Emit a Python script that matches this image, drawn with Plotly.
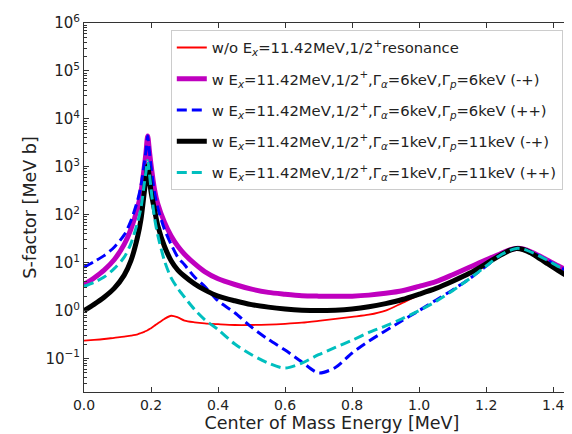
import plotly.graph_objects as go

# energies (MeV) shared by all curves
energy = [0, 0.03, 0.06, 0.09, 0.12, 0.14, 0.16, 0.17, 0.18, 0.185, 0.19, 0.195, 0.2,
          0.21, 0.22, 0.24, 0.26, 0.28, 0.3, 0.33, 0.36, 0.4, 0.45, 0.5, 0.55, 0.6,
          0.65, 0.7, 0.75, 0.8, 0.85, 0.9, 0.95, 1.0, 1.05, 1.1, 1.15, 1.2, 1.24,
          1.27, 1.29, 1.31, 1.34, 1.38, 1.42, 1.46, 1.5]

# S-factor values (MeV b)
s_without = [0.237, 0.245, 0.255, 0.27, 0.285, 0.3, 0.32, 0.34, 0.36, 0.375, 0.39, 0.41, 0.43,
             0.48, 0.54, 0.67, 0.78, 0.72, 0.62, 0.57, 0.54, 0.52, 0.5, 0.5, 0.51, 0.53,
             0.56, 0.61, 0.67, 0.74, 0.82, 1.0, 1.45, 2.1, 2.8, 4.0, 5.9, 9.3, 14,
             18, 19.8, 19.3, 16, 11.5, 8, 5.8, 4.3]
s_66_mp = [3.5, 4.8, 7, 11.5, 24, 50, 140, 300, 1000, 2000, 4400, 2200, 1100,
           350, 170, 70, 36, 22, 15, 9.5, 6.5, 4.6, 3.5, 2.8, 2.4, 2.2,
           2.05, 2.0, 1.98, 2.0, 2.1, 2.3, 2.6, 3.2, 4.0, 5.6, 8, 11.5, 15,
           18.5, 19.8, 19.3, 16, 11.5, 8.2, 6.0, 4.5]
s_66_pp = [8, 10.5, 14, 21, 38, 75, 200, 400, 1200, 2200, 4400, 2100, 1000,
           300, 140, 50, 24, 13, 9, 5, 3.2, 1.6, 0.9, 0.45, 0.25, 0.15,
           0.085, 0.05, 0.065, 0.13, 0.23, 0.38, 0.62, 1.0, 1.65, 2.7, 4.6, 8.5, 14,
           18, 19.8, 19.3, 16, 11.5, 8, 5.8, 4.3]
s_111_mp = [1.0, 1.35, 1.9, 2.9, 5.5, 11, 35, 80, 300, 550, 1050, 600, 300,
            130, 60, 22, 11, 7, 5.2, 3.6, 2.7, 2.0, 1.6, 1.33, 1.18, 1.08,
            1.02, 1.0, 1.02, 1.08, 1.2, 1.4, 1.7, 2.2, 2.9, 4.1, 6, 9.5, 14,
            18, 19.8, 18.8, 15, 9.8, 6.5, 4.5, 3.4]
s_111_pp = [3.2, 3.9, 5, 7.5, 13, 25, 70, 140, 450, 800, 1350, 750, 350,
            90, 38, 11, 4.8, 2.9, 1.9, 1.05, 0.65, 0.4, 0.2, 0.12, 0.08, 0.063,
            0.08, 0.12, 0.17, 0.24, 0.35, 0.48, 0.68, 1.0, 1.55, 2.6, 4.6, 8.5, 14,
            18, 19.8, 19.3, 16, 11.5, 8, 5.8, 4.3]

names = [
    "w/o E<sub><i>x</i></sub>=11.42MeV,1/2<sup>+</sup>resonance",
    "w E<sub><i>x</i></sub>=11.42MeV,1/2<sup>+</sup>,Γ<sub><i>α</i></sub>=6keV,Γ<sub><i>p</i></sub>=6keV (-+)",
    "w E<sub><i>x</i></sub>=11.42MeV,1/2<sup>+</sup>,Γ<sub><i>α</i></sub>=6keV,Γ<sub><i>p</i></sub>=6keV (++)",
    "w E<sub><i>x</i></sub>=11.42MeV,1/2<sup>+</sup>,Γ<sub><i>α</i></sub>=1keV,Γ<sub><i>p</i></sub>=11keV (-+)",
    "w E<sub><i>x</i></sub>=11.42MeV,1/2<sup>+</sup>,Γ<sub><i>α</i></sub>=1keV,Γ<sub><i>p</i></sub>=11keV (++)",
]
series = [s_without, s_66_mp, s_66_pp, s_111_mp, s_111_pp]
colors = ["#ff0000", "#bf00bf", "#0000ff", "#000000", "#00bfbf"]
widths = [1.8, 5, 3, 5, 3]
dashes = ["solid", "solid", "10px,5px", "solid", "10px,5px"]

y_tickvals = [10.0 ** k for k in range(-1, 7)]
y_ticktext = ["10<sup>−1</sup>"] + ["10<sup>%d</sup>" % k for k in range(0, 7)]
y_minor = [m * 10.0 ** k for k in range(-2, 6) for m in range(2, 10)]

fig = go.Figure()
for i, (name, vals) in enumerate(zip(names, series)):
    fig.add_trace(go.Scatter(
        x=energy, y=vals, mode="lines", name=name, legendgroup=str(i),
        line=dict(color=colors[i], width=widths[i], dash=dashes[i], shape="spline", smoothing=0.8),
    ))

fig.update_layout(
    width=572, height=434,
    margin=dict(l=76, r=0, t=15, b=50),
    paper_bgcolor="white", plot_bgcolor="white",
    font=dict(family="DejaVu Sans", size=14, color="#222222"),
    legend=dict(
        x=0.175, y=0.98, xanchor="left", yanchor="top",
        bgcolor="rgba(255,255,255,0.85)", bordercolor="#cccccc", borderwidth=1,
        font=dict(size=14.8), tracegroupgap=9,
    ),
    xaxis=dict(
        range=[0, 1.48], tickvals=[0, 0.2, 0.4, 0.6, 0.8, 1.0, 1.2, 1.4], tickformat=".1f",
        ticks="inside", ticklen=5, tickcolor="#333", showline=True, linecolor="#333",
        linewidth=1, mirror="ticks", showgrid=False, zeroline=False,
        tickfont=dict(size=14),
        title=dict(text="Center of Mass Energy [MeV]", font=dict(size=17.5), standoff=4),
    ),
    yaxis=dict(
        type="log", range=[-1.699, 6], tickmode="array", tickvals=y_tickvals, ticktext=y_ticktext,
        ticks="inside", ticklen=5, tickcolor="#333", showline=True, linecolor="#333",
        linewidth=1, showgrid=False, zeroline=False, tickfont=dict(size=15),
        minor=dict(tickmode="array", tickvals=y_minor, ticks="inside", ticklen=2.5,
                   tickcolor="#333", showgrid=False),
        title=dict(text="S-factor [MeV b]", font=dict(size=17.5), standoff=4),
    ),
)

fig.write_html("out.html")
